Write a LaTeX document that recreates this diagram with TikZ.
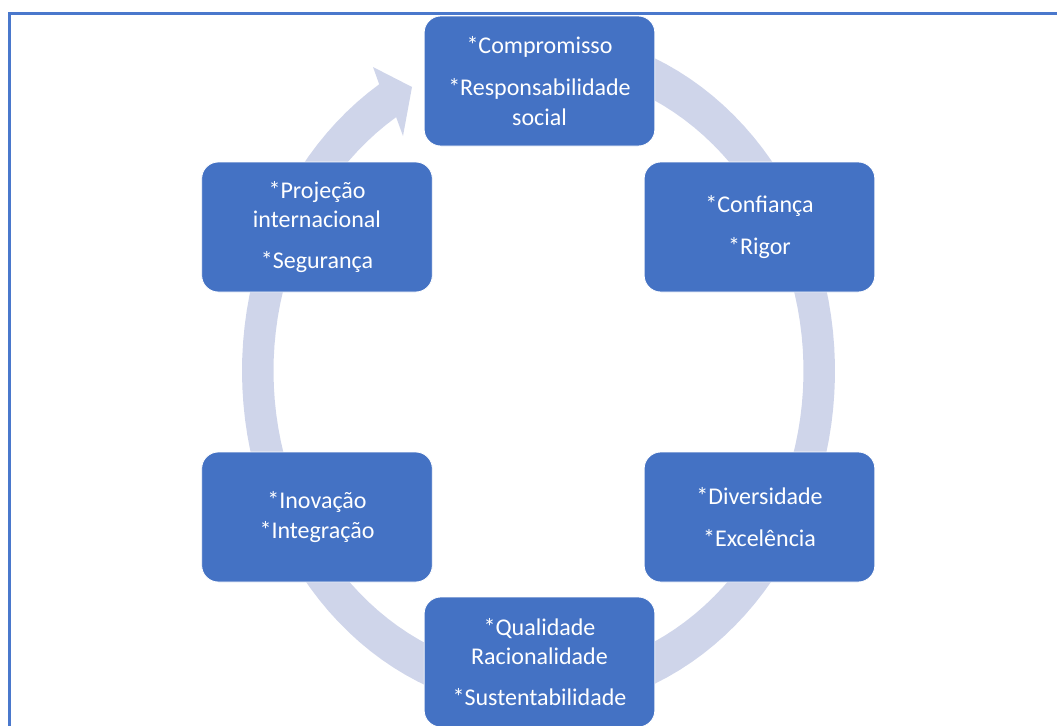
\documentclass[tikz,border=0pt]{standalone}
\usepackage{fontspec}
\setmainfont{Carlito}
\definecolor{boxblue}{HTML}{4472C4}
\definecolor{ringc}{HTML}{CFD5EA}
\definecolor{framec}{HTML}{4A78CC}
\begin{document}
\begin{tikzpicture}[x=0.75pt,y=-0.75pt,
  valuebox/.style={rectangle, rounded corners=12.5pt, fill=boxblue, draw=white, line width=0.6pt,
    minimum width=173pt, minimum height=97.5pt, text=white, align=center,
    font=\fontsize{18}{22}\selectfont, inner sep=0pt},
  ringband/.style={fill=ringc, draw=none},
  frameline/.style={draw=framec, line width=1.6pt}]
\useasboundingbox (0,0) rectangle (1057,725);
% outer frame
\draw[frameline] (9.5,13.5) rectangle (1060,730);
% circular arrow band
\fill[ringband]
  plot[domain=-75:237.5,samples=120] ({538.5+296.5*cos(\x)},{371+340*sin(\x)})
  -- (373,67) -- (412,87) -- (403,136)
  -- plot[domain=237.5:-75,samples=120] ({538.5+265*cos(\x)},{371+301*sin(\x)})
  -- cycle;
% boxes
\node[valuebox] (n1) at (539.5,81) {{}*Compromisso\\[9.5pt]{}*Responsabilidade\\{}social};
\node[valuebox] (n2) at (759.5,227) {{}*Confiança\\[9pt]{}*Rigor};
\node[valuebox] (n4) at (759.5,517) {{}*Diversidade\\[9pt]{}*Excelência};
\node[valuebox] (n6) at (539.5,662) {{}*Qualidade\\{}Racionalidade\\[9pt]{}*Sustentabilidade};
\node[valuebox] (n5) at (317,517) {{}*Inovação\\{}*Integração};
\node[valuebox] (n3) at (317,227) {{}*Projeção\\{}internacional\\[9pt]{}*Segurança};
\end{tikzpicture}
\end{document}
